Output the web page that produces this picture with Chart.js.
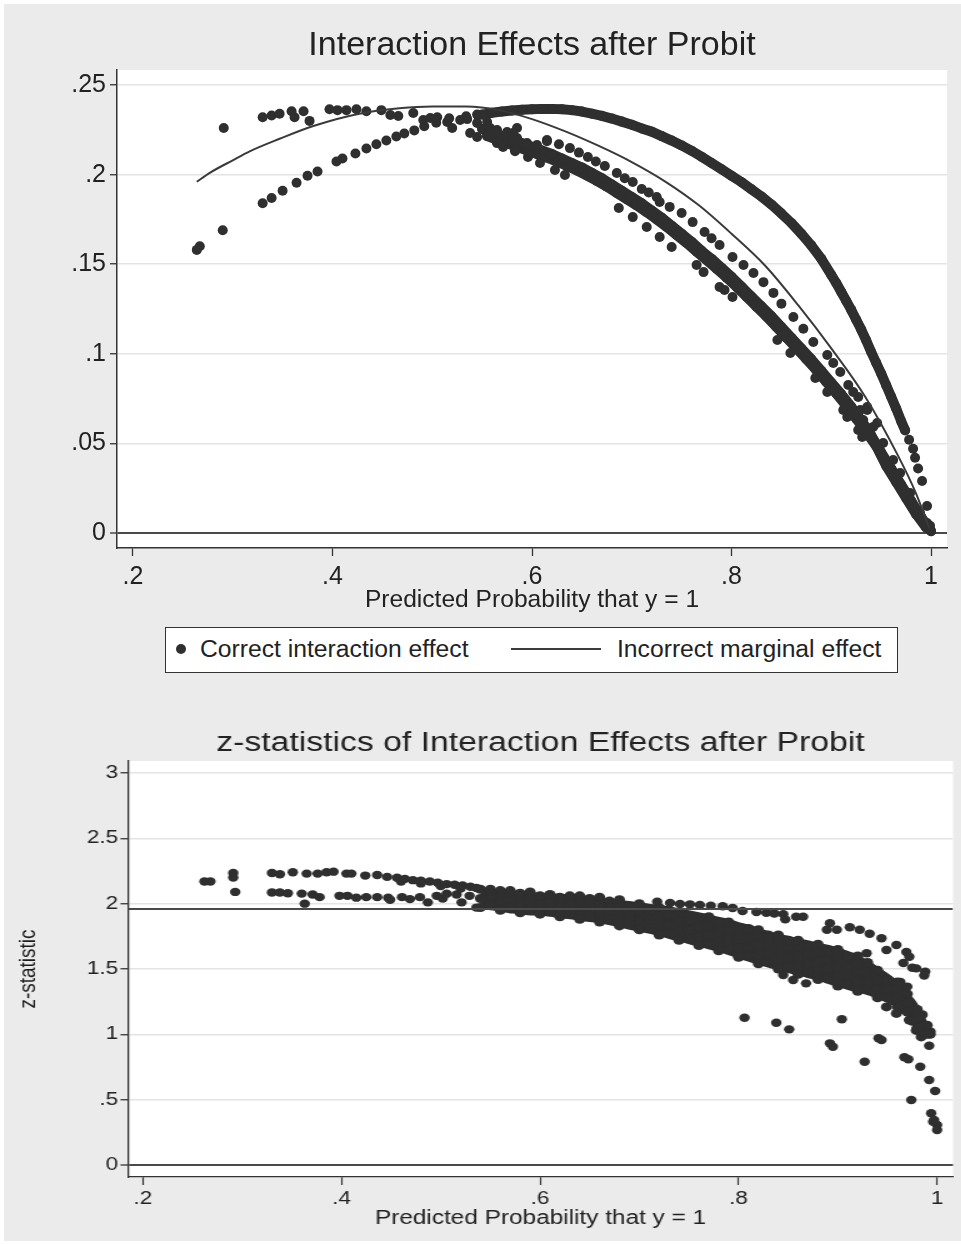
<!DOCTYPE html>
<html>
<head>
<meta charset="utf-8">
<script src="https://cdn.jsdelivr.net/npm/chart.js@4.4.1/dist/chart.umd.min.js"></script>
<style>
html, body { margin: 0; padding: 0; background: #fff; }
body { width: 961px; height: 1244px; position: relative; overflow: hidden; font-family: "Liberation Sans", Arial, Helvetica, sans-serif; }
#panel { position: absolute; left: 4px; top: 4px; width: 957px; height: 1237px; background: #ebebeb; }
#topWrap { position: absolute; left: 0; top: 0; width: 961px; height: 620px; }
#bottomWrap { position: absolute; left: 0; top: 700px; width: 769px; height: 544px; transform: scaleX(1.25); transform-origin: 0 0; }
#legend { position: absolute; left: 165px; top: 627px; width: 733px; height: 46px; box-sizing: border-box; border: 1.5px solid #333; background: #fff; font-size: 24.7px; color: #222; }
#legend .dot { position: absolute; left: 10px; top: 16px; width: 10px; height: 10px; border-radius: 50%; background: #2f2f2f; }
#legend .swatch { position: absolute; left: 345px; top: 20px; width: 90px; height: 2px; background: #3c3c3c; }
#legend .txt { position: absolute; top: 7px; line-height: 28px; white-space: nowrap; }
</style>
</head>
<body>
<div id="panel"></div>
<div id="topWrap"><canvas id="effectChart"></canvas></div>
<div id="legend">
  <span class="dot"></span><span class="txt" style="left:34px">Correct interaction effect</span>
  <span class="swatch"></span><span class="txt" style="left:451px">Incorrect marginal effect</span>
</div>
<div id="bottomWrap"><canvas id="zChart"></canvas></div>
<script>
// ---- axes ----
const probTicks = [0.2, 0.4, 0.6, 0.8, 1];
const probTickLabels = ['.2', '.4', '.6', '.8', '1'];
const effectTicks = [0, 0.05, 0.1, 0.15, 0.2, 0.25];
const effectTickLabels = ['0', '.05', '.1', '.15', '.2', '.25'];
const zTicks = [0, 0.5, 1, 1.5, 2, 2.5, 3];
const zTickLabels = ['0', '.5', '1', '1.5', '2', '2.5', '3'];
const criticalZ = 1.96;

// ---- top: incorrect marginal effect (line) ----
const marginalP = [0.264, 0.277, 0.30, 0.317, 0.347, 0.38, 0.427, 0.467, 0.50, 0.534, 0.567, 0.60, 0.634, 0.667, 0.70, 0.734, 0.767, 0.80, 0.834, 0.867, 0.90, 0.934, 0.967, 0.985, 0.998];
const marginalEffect = [0.196, 0.201, 0.208, 0.213, 0.220, 0.227, 0.234, 0.237, 0.238, 0.238, 0.236, 0.231, 0.224, 0.216, 0.207, 0.196, 0.183, 0.167, 0.149, 0.127, 0.103, 0.076, 0.043, 0.022, 0.003];

// ---- top: correct interaction effect (dots), read band by band ----
const riseBand = [[0.264,0.158],[0.267,0.160],[0.290,0.169],[0.330,0.184],[0.339,0.187],[0.350,0.191],[0.364,0.1955],[0.375,0.1994],[0.385,0.2017],[0.404,0.2073],[0.410,0.209],[0.423,0.2118],[0.434,0.2146],[0.444,0.217],[0.454,0.219],[0.464,0.2213],[0.472,0.223],[0.482,0.2247],[0.492,0.227],[0.504,0.229],[0.517,0.2315],[0.534,0.2326],[0.545,0.2335]];
const plateauRow = [[0.291,0.226],[0.330,0.232],[0.339,0.233],[0.347,0.234],[0.359,0.2354],[0.362,0.232],[0.371,0.2354],[0.377,0.230],[0.397,0.2365],[0.405,0.236],[0.414,0.236],[0.424,0.2365],[0.434,0.2354],[0.449,0.236],[0.458,0.2333],[0.466,0.2327],[0.481,0.2344],[0.491,0.2305],[0.498,0.2316],[0.505,0.232],[0.515,0.2294],[0.520,0.226],[0.528,0.2305],[0.535,0.231],[0.538,0.2232],[0.545,0.221],[0.545,0.2288],[0.555,0.2294],[0.558,0.226],[0.565,0.2249],[0.565,0.2182],[0.571,0.2165],[0.575,0.2238],[0.581,0.2232],[0.583,0.2137],[0.585,0.226],[0.585,0.2204],[0.595,0.2176],[0.605,0.2165],[0.615,0.2187]];
const upperBandP = [0.55,0.56,0.57,0.58,0.59,0.60,0.61,0.62,0.63,0.64,0.65,0.66,0.67,0.68,0.69,0.70,0.71,0.72,0.73,0.74,0.75,0.76,0.77,0.78,0.79,0.80,0.81,0.82,0.83,0.84,0.85,0.86,0.87,0.88,0.89,0.90,0.905,0.91,0.915,0.92,0.925,0.93,0.935,0.94,0.945,0.95,0.955,0.96,0.965,0.97,0.974];
const upperBandV = [0.2335,0.2345,0.2352,0.2358,0.2362,0.2365,0.2367,0.2367,0.2365,0.236,0.2352,0.234,0.2328,0.2313,0.2296,0.2278,0.2258,0.224,0.2215,0.219,0.2163,0.2133,0.21,0.2065,0.203,0.1994,0.1958,0.1918,0.1878,0.1833,0.1783,0.173,0.167,0.1605,0.153,0.144,0.1395,0.1345,0.1295,0.1245,0.119,0.1135,0.1075,0.101,0.095,0.089,0.0825,0.076,0.0695,0.0625,0.0573];
const upperTail = [[0.978,0.052],[0.982,0.047],[0.984,0.042],[0.987,0.036],[0.991,0.029],[0.996,0.015],[0.999,0.004]];
const mainBandP = [0.55,0.56,0.57,0.58,0.59,0.60,0.61,0.62,0.63,0.64,0.65,0.66,0.67,0.68,0.69,0.70,0.71,0.72,0.73,0.74,0.75,0.76,0.77,0.78,0.79,0.80,0.81,0.82,0.83,0.84,0.85,0.86,0.87,0.88,0.89,0.90,0.91,0.92,0.93,0.94,0.95,0.96,0.97,0.98,0.99,1.0];
const mainBandV = [0.2255,0.2235,0.2215,0.2195,0.2175,0.2155,0.2135,0.2115,0.209,0.2065,0.204,0.201,0.198,0.1945,0.191,0.1875,0.184,0.18,0.176,0.1715,0.167,0.1625,0.1575,0.153,0.148,0.143,0.1375,0.132,0.1265,0.121,0.115,0.109,0.103,0.097,0.0905,0.084,0.0775,0.0705,0.063,0.0545,0.045,0.036,0.027,0.018,0.009,0.001];
const mainEdgeP = [0.555,0.565,0.575,0.585,0.595,0.605,0.615,0.625,0.635,0.645,0.655,0.665,0.675,0.685,0.695,0.705,0.715,0.725,0.735,0.745,0.755,0.765,0.775,0.785,0.795,0.805,0.815,0.825,0.835,0.845,0.855,0.865,0.875,0.885,0.895,0.905,0.915,0.925,0.935,0.945,0.955,0.965,0.975,0.985,0.995];
const mainEdgeV = [0.2215,0.2195,0.2175,0.2155,0.2135,0.2115,0.2095,0.2073,0.2048,0.2023,0.1995,0.1965,0.1933,0.1898,0.1863,0.1828,0.179,0.175,0.1708,0.1663,0.1618,0.157,0.1523,0.1475,0.1425,0.1373,0.1318,0.1263,0.1208,0.115,0.109,0.103,0.097,0.0908,0.0843,0.0778,0.071,0.0638,0.0563,0.0485,0.0375,0.0285,0.0195,0.0105,0.003];
const secondBand = [[0.615,0.2193],[0.627,0.217],[0.638,0.2148],[0.647,0.2123],[0.656,0.2098],[0.664,0.2073],[0.673,0.2048],[0.685,0.2009],[0.693,0.198],[0.701,0.1959],[0.710,0.192],[0.717,0.190],[0.725,0.1875],[0.728,0.1847],[0.738,0.182],[0.750,0.1786],[0.761,0.1735],[0.773,0.168],[0.780,0.1645],[0.788,0.1607],[0.801,0.154],[0.812,0.1496],[0.822,0.1451],[0.832,0.140],[0.842,0.134],[0.850,0.128],[0.862,0.1205],[0.872,0.114],[0.882,0.1066],[0.896,0.0993],[0.902,0.0949],[0.909,0.0898],[0.917,0.0826],[0.922,0.0787],[0.927,0.0759],[0.936,0.0686],[0.946,0.0614]];
const lowerScatter = [[0.565,0.2176],[0.571,0.2154],[0.583,0.213],[0.596,0.2098],[0.608,0.2065],[0.623,0.2026],[0.633,0.1998],[0.687,0.1814],[0.701,0.1763],[0.715,0.1708],[0.728,0.1652],[0.740,0.1596],[0.765,0.1496],[0.772,0.1456],[0.788,0.1373],[0.793,0.1356],[0.801,0.1317],[0.846,0.1077],[0.859,0.1004],[0.884,0.0865],[0.896,0.0787],[0.912,0.0686],[0.916,0.0647],[0.927,0.0575],[0.931,0.0536]];
const convergeTail = [[0.929,0.0686],[0.932,0.063],[0.936,0.0703],[0.942,0.0592],[0.952,0.0502],[0.962,0.0407],[0.969,0.0335],[0.979,0.0223],[0.989,0.0112],[0.996,0.0056]];

// ---- bottom: z-statistics (dots) ----
const zLeftPairs = [[0.262,2.17],[0.268,2.17],[0.291,2.235],[0.291,2.20],[0.293,2.09]];
const zUpperRow = [[0.330,2.235],[0.338,2.225],[0.351,2.24],[0.365,2.23],[0.376,2.23],[0.385,2.24],[0.392,2.245],[0.405,2.23],[0.410,2.23],[0.424,2.215],[0.436,2.22],[0.446,2.205],[0.456,2.198],[0.464,2.19],[0.472,2.18],[0.480,2.175],[0.489,2.17],[0.497,2.16],[0.506,2.15],[0.514,2.145],[0.522,2.14],[0.530,2.13],[0.536,2.12],[0.460,2.17],[0.480,2.155],[0.500,2.135],[0.520,2.115]];
const zLowerRow = [[0.330,2.085],[0.338,2.085],[0.346,2.08],[0.360,2.077],[0.363,2.0],[0.371,2.07],[0.378,2.05],[0.398,2.06],[0.406,2.06],[0.415,2.046],[0.425,2.05],[0.436,2.05],[0.447,2.046],[0.449,2.03],[0.461,2.05],[0.469,2.035],[0.479,2.05],[0.487,2.01],[0.496,2.06],[0.502,2.04],[0.506,2.076],[0.516,2.07],[0.521,2.01],[0.529,2.06],[0.536,1.97]];
const zBandP = [0.54,0.55,0.56,0.57,0.58,0.59,0.60,0.61,0.62,0.63,0.64,0.65,0.66,0.67,0.68,0.69,0.70,0.71,0.72,0.73,0.74,0.75,0.76,0.77,0.78,0.79,0.80,0.81,0.82,0.83,0.84,0.85,0.86,0.87,0.88,0.89,0.90,0.91,0.92,0.93,0.94,0.95,0.96,0.97,0.98,0.99];
// upper and lower edge of the solid mass of dots
const zBandUpper = [2.12,2.115,2.11,2.10,2.095,2.09,2.085,2.08,2.075,2.07,2.06,2.055,2.05,2.04,2.03,2.02,2.01,2.0,1.99,1.98,1.965,1.95,1.935,1.92,1.90,1.885,1.86,1.84,1.815,1.79,1.77,1.755,1.735,1.72,1.70,1.685,1.665,1.64,1.61,1.57,1.52,1.47,1.41,1.33,1.24,1.10];
const zBandLower = [1.96,1.95,1.94,1.925,1.92,1.91,1.91,1.90,1.89,1.88,1.87,1.86,1.85,1.835,1.82,1.80,1.785,1.77,1.75,1.73,1.71,1.69,1.67,1.65,1.63,1.605,1.58,1.555,1.53,1.51,1.49,1.47,1.45,1.43,1.41,1.385,1.36,1.34,1.32,1.30,1.27,1.24,1.20,1.13,1.04,0.98];
const zBandZ = [
  [1.97,2.04,2.11],[1.99,2.06,2.11],[1.95,2.02,2.10],[1.97,2.04,2.10],[1.93,2.00,2.08],[1.95,2.02,2.09],
  [1.92,1.99,2.06],[1.94,2.01,2.07],[1.90,1.97,2.05],[1.92,1.99,2.06],[1.88,1.95,2.02,2.06],[1.90,1.97,2.04],
  [1.86,1.93,2.00,2.05],[1.88,1.95,2.02],[1.83,1.90,1.97,2.03],[1.84,1.91,1.98],[1.80,1.87,1.94,2.00],[1.81,1.88,1.95],
  [1.76,1.83,1.90,1.97],[1.77,1.84,1.91],[1.72,1.79,1.86,1.93],[1.73,1.80,1.87],[1.68,1.75,1.82,1.89],[1.69,1.76,1.83,1.90],
  [1.64,1.71,1.78,1.85],[1.65,1.72,1.79,1.86],[1.59,1.66,1.73,1.80],[1.60,1.67,1.74,1.81],[1.54,1.61,1.68,1.75,1.80],[1.55,1.62,1.69,1.76],
  [1.50,1.57,1.64,1.71,1.76],[1.51,1.58,1.65,1.72],[1.46,1.53,1.60,1.67,1.72],[1.47,1.54,1.61,1.68],[1.42,1.49,1.56,1.63,1.69],[1.43,1.50,1.57,1.64],
  [1.37,1.44,1.51,1.58,1.65],[1.38,1.45,1.52,1.59],[1.33,1.40,1.47,1.54,1.60],[1.34,1.41,1.48,1.55],[1.28,1.35,1.42,1.49],[1.28,1.35,1.42],
  [1.21,1.28,1.35,1.40],[1.17,1.24,1.31],[1.05,1.12,1.19],[1.00,1.07]
];
const zBandExtra = [[0.955,1.30],[0.965,1.25],[0.975,1.10],[0.985,1.02],[0.985,1.15],[0.993,1.0]];
const zRowNearTwo = [[0.718,2.015],[0.731,2.005],[0.741,1.997],[0.751,1.995],[0.761,1.99],[0.772,1.985],[0.784,1.98],[0.794,1.967],[0.804,1.944],[0.818,1.936],[0.828,1.93],[0.836,1.925],[0.845,1.92],[0.847,1.88],[0.858,1.90],[0.865,1.90]];
const zRowRight = [[0.892,1.85],[0.889,1.80],[0.899,1.80],[0.912,1.82],[0.922,1.80],[0.932,1.77],[0.944,1.735],[0.949,1.645],[0.959,1.684],[0.969,1.63],[0.972,1.594],[0.979,1.505],[0.988,1.479],[0.929,1.62],[0.963,1.40],[0.970,1.365],[0.966,1.546],[0.975,1.51],[0.987,1.45]];
const zBelowBand = [[0.845,1.454],[0.855,1.416],[0.868,1.39]];
const zTail = [[0.949,1.21],[0.959,1.16],[0.972,1.11],[0.979,1.03],[0.989,1.01],[0.984,0.98],[0.993,1.02],[0.966,1.19],[0.979,1.135]];
const zLowStrays = [[0.806,1.127],[0.838,1.089],[0.851,1.038],[0.904,1.115],[0.892,0.931],[0.895,0.905],[0.927,0.79],[0.941,0.97],[0.944,0.957],[0.967,0.824],[0.971,0.809],[0.983,0.752],[0.992,0.913],[0.992,0.65],[0.998,0.566],[0.974,0.497],[0.994,0.396],[0.996,0.331],[1.0,0.306],[1.0,0.268],[0.997,0.344]];

// ---- helpers ----
const FONT = '"Liberation Sans", Arial, Helvetica, sans-serif';
const INK = '#222';
const DOT = '#2f2f2f';
Chart.defaults.font.family = FONT;
Chart.defaults.color = INK;

const pairs = list => list.map(([x, y]) => ({ x, y }));
const zip = (xs, ys) => xs.map((x, i) => ({ x, y: ys[i] }));
const columns = (ps, zs) => ps.flatMap((p, i) => zs[i].map(z => ({ x: p, y: z })));

const plotBackground = {
  id: 'plotBackground',
  beforeDraw(chart) {
    const { ctx, chartArea: a } = chart;
    ctx.save();
    ctx.fillStyle = '#fff';
    ctx.fillRect(a.left, a.top, a.right - a.left, a.bottom - a.top);
    ctx.restore();
  }
};

function dots(data, r) {
  return { type: 'scatter', data, pointRadius: r, pointBackgroundColor: DOT, pointBorderWidth: 0, order: 2 };
}

// a run of dots so tightly packed in the reference that it reads as a solid stroke
function denseRun(data, r) {
  return {
    type: 'line', data, showLine: true, tension: 0, fill: false,
    borderColor: DOT, borderWidth: 2 * r, borderCapStyle: 'round', borderJoinStyle: 'round',
    pointRadius: r, pointBackgroundColor: DOT, pointBorderWidth: 0, order: 2
  };
}

function yGrid(extra) {
  return Object.assign({
    color: c => (c.tick && c.tick.value === 0) ? '#4a4a4a' : '#e4e4e4',
    lineWidth: c => (c.tick && c.tick.value === 0) ? 2 : 1.5,
    tickColor: '#333',
    tickWidth: 1.3,
    drawTicks: true
  }, extra);
}

// ---- top chart ----
const effectData = [
  { type: 'line', data: zip(marginalP, marginalEffect), borderColor: '#3a3a3a', borderWidth: 2, pointRadius: 0, tension: 0.4, cubicInterpolationMode: 'monotone', fill: false, order: 0 },
  dots(pairs(riseBand), 5),
  dots(pairs(plateauRow), 5),
  denseRun(zip(upperBandP, upperBandV), 5),
  dots(pairs(upperTail), 5),
  denseRun(zip(mainBandP, mainBandV), 5),
  denseRun(zip(mainEdgeP, mainEdgeV), 5),
  dots(pairs(secondBand), 5),
  dots(pairs(lowerScatter), 5),
  dots(pairs(convergeTail), 5)
];

new Chart(document.getElementById('effectChart'), {
  type: 'scatter',
  data: { datasets: effectData },
  plugins: [plotBackground],
  options: {
    responsive: true,
    maintainAspectRatio: false,
    animation: false,
    events: [],
    layout: { padding: { left: 0, right: 14, top: 0, bottom: 0 } },
    plugins: {
      legend: { display: false },
      tooltip: { enabled: false },
      title: {
        display: true, text: 'Interaction Effects after Probit', fullSize: false,
        color: INK, font: { size: 34, weight: 'normal', lineHeight: 1.2 },
        padding: { top: 25.6, bottom: 3.6 }
      }
    },
    scales: {
      x: {
        type: 'linear', min: 0.184, max: 1.016,
        afterBuildTicks: s => { s.ticks = probTicks.map(v => ({ value: v })); },
        afterFit: s => { s.height = 72; },
        ticks: { callback: (v, i) => probTickLabels[i], font: { size: 25 }, padding: 6, maxRotation: 0, color: INK },
        grid: { drawOnChartArea: false, drawTicks: true, tickLength: 8, tickColor: '#333', tickWidth: 1.3 },
        border: { display: true, color: '#333', width: 1.5 },
        title: { display: true, text: 'Predicted Probability that y = 1', color: INK, font: { size: 24.6 }, padding: { top: 0, bottom: 5 } }
      },
      y: {
        type: 'linear', min: -0.0084, max: 0.2584,
        afterBuildTicks: s => { s.ticks = effectTicks.map(v => ({ value: v })); },
        afterFit: s => { s.width = 117; },
        ticks: { callback: (v, i) => effectTickLabels[i], font: { size: 25 }, padding: 4, color: INK },
        grid: yGrid({ tickLength: 7 }),
        border: { display: true, color: '#333', width: 1.5 }
      }
    }
  }
});

// ---- bottom chart ----
const zMinP = 0.185, zMaxP = 1.016;
const zData = [
  { type: 'line', data: [{ x: zMinP, y: criticalZ }, { x: zMaxP, y: criticalZ }], borderColor: '#4a4a4a', borderWidth: 2, pointRadius: 0, fill: false, order: 0 },
  // solid mass of the main cloud: upper edge filled down to the lower edge (next dataset)
  { type: 'line', data: zip(zBandP, zBandUpper), borderWidth: 0, pointRadius: 0, tension: 0.3, fill: '+1', backgroundColor: DOT, order: 3 },
  { type: 'line', data: zip(zBandP, zBandLower), borderWidth: 0, pointRadius: 0, tension: 0.3, fill: false, order: 3 },
  dots(pairs(zLeftPairs), 4.2),
  dots(pairs(zUpperRow), 4.2),
  dots(pairs(zLowerRow), 4.2),
  dots(columns(zBandP, zBandZ), 4.5),
  dots(pairs(zBandExtra), 4.5),
  dots(pairs(zRowNearTwo), 4.2),
  dots(pairs(zRowRight), 4.2),
  dots(pairs(zBelowBand), 4.2),
  dots(pairs(zTail), 4.5),
  dots(pairs(zLowStrays), 4.2)
];

new Chart(document.getElementById('zChart'), {
  type: 'scatter',
  data: { datasets: zData },
  plugins: [plotBackground],
  options: {
    responsive: true,
    maintainAspectRatio: false,
    animation: false,
    events: [],
    layout: { padding: { left: 0, right: 6.6, top: 0, bottom: 0 } },
    plugins: {
      legend: { display: false },
      tooltip: { enabled: false },
      title: {
        display: true, text: 'z-statistics of Interaction Effects after Probit', fullSize: false,
        color: INK, font: { size: 27, weight: 'normal', lineHeight: 1.2 },
        padding: { top: 27.8, bottom: 0.8 }
      }
    },
    scales: {
      x: {
        type: 'linear', min: zMinP, max: zMaxP,
        afterBuildTicks: s => { s.ticks = probTicks.map(v => ({ value: v })); },
        afterFit: s => { s.height = 67; },
        ticks: { callback: (v, i) => probTickLabels[i], font: { size: 18 }, padding: 3, maxRotation: 0, color: INK },
        grid: { drawOnChartArea: false, drawTicks: true, tickLength: 8, tickColor: '#333', tickWidth: 1.2 },
        border: { display: true, color: '#333', width: 1.3 },
        title: { display: true, text: 'Predicted Probability that y = 1', color: INK, font: { size: 19.5 }, padding: { top: 0, bottom: 14 } }
      },
      y: {
        type: 'linear', min: -0.092, max: 3.092,
        afterBuildTicks: s => { s.ticks = zTicks.map(v => ({ value: v })); },
        afterFit: s => { s.width = 102.4; },
        ticks: { callback: (v, i) => zTickLabels[i], font: { size: 18 }, padding: 2, color: INK },
        grid: yGrid({ tickLength: 6 }),
        border: { display: true, color: '#333', width: 1.3 },
        title: { display: true, text: 'z-statistic', color: '#1a1a1a', font: { size: 19 }, padding: { top: 11.6, bottom: 0 } }
      }
    }
  }
});
</script>
</body>
</html>
